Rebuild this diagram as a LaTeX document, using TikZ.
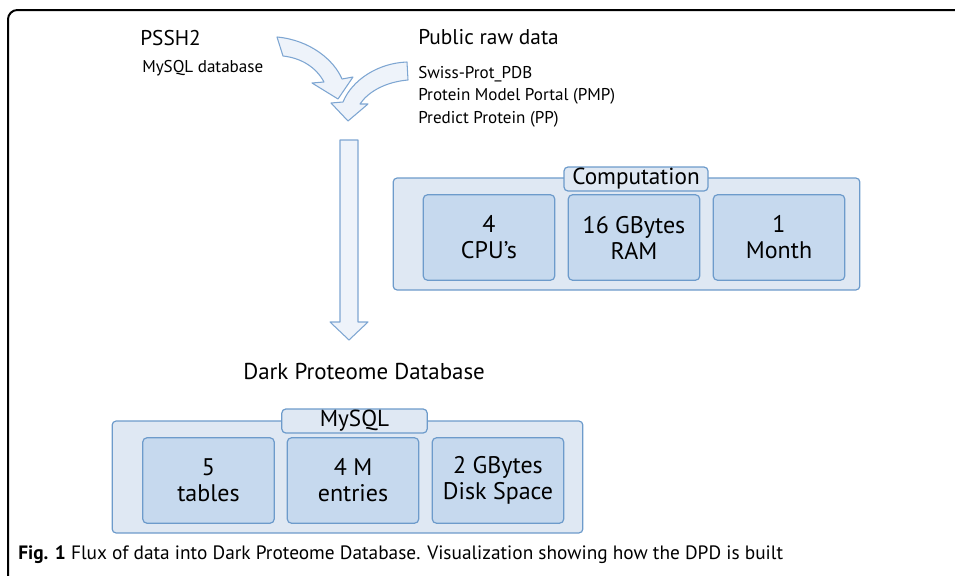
\documentclass[tikz,border=0pt]{standalone}
\usepackage{xcolor}
\usepackage{fontspec}
\setmainfont{PT Sans}
\usepackage{tikz}
\usetikzlibrary{arrows,positioning,shapes,calc}
\definecolor{outerfill}{HTML}{DFE8F3}
\definecolor{innerfill}{HTML}{C6D9EE}
\definecolor{boxline}{HTML}{6D9BCB}
\definecolor{arrowfill}{HTML}{EEF3FA}
\definecolor{arrowline}{HTML}{7EA6D2}

\begin{document}
\begin{tikzpicture}[x = .75pt, y = -.75pt,
  title/.style = {anchor = west, inner sep = 0pt, font = \fontsize{16}{19}\selectfont},
  small/.style = {anchor = west, inner sep = 0pt, font = \fontsize{12.8}{16.8}\selectfont, align = left},
  outerbox/.style = {draw = boxline, fill = outerfill, line width = .9pt, rounded corners = 3pt, minimum height = 84pt},
  innerbox/.style = {draw = boxline, fill = innerfill, line width = .9pt, rounded corners = 3pt, minimum width = 98.5pt, minimum height = 64pt, align = center, font = \fontsize{18}{19.5}\selectfont},
  tab/.style = {draw = boxline, fill = outerfill, line width = .9pt, rounded corners = 3pt, minimum height = 18pt, inner sep = 0pt, font = \fontsize{17.4}{18}\selectfont},
  blockarrow/.style = {draw = arrowline, fill = arrowfill, line width = .8pt, line join = round}]
\useasboundingbox (0,0) rectangle (955,575);
% frame
\draw[line width = 1.5pt, rounded corners = 7pt] (960,10) -- (8,10) -- (8,580);

% sources
\node[title] (pssh) at (140,38) {PSSH2};
\node[small] (mysqldb) at (142,68) {MySQL database};
\node[title] (public) at (418,37) {Public raw data};
\node[small, anchor = north west] (sources) at (418,66) {Swiss-Prot\_PDB\\Protein Model Portal (PMP)\\Predict Protein (PP)};

% curved arrows
\draw[blockarrow] (277,37) .. controls (310,40) and (334,60) .. (342,79) -- (353,77) -- (338,99)
  -- (312,83) -- (324,82) .. controls (316,67) and (301,58) .. (283,56) -- cycle;
\draw[blockarrow] (407,62) .. controls (378,63) and (352,80) .. (343,102) -- (331,103) -- (348,121)
  -- (368,104) -- (360,104) .. controls (368,92) and (385,82) .. (408,80) -- cycle;

% down arrow
\draw[blockarrow] (340,140) -- (358,140) -- (358,322) -- (368,322) -- (349,340) -- (330,322) -- (340,322) -- cycle;

% computation
\node[outerbox, minimum width = 350pt] (comp) at (626.5,234) {};
\node[innerbox] (cpu) at (489,237.5) {4\\CPU’s};
\node[innerbox] (ram) at (634,237.5) {16 GBytes\\RAM};
\node[innerbox] (month) at (779,237.5) {1\\Month};
\node[tab, minimum width = 108pt] (comptab) at (636,179) {Computation};

% database
\node[title, font = \fontsize{17.2}{19}\selectfont] (dpd) at (243,372) {Dark Proteome Database};
\node[outerbox, minimum width = 353pt] (db) at (347.5,477) {};
\node[innerbox] (tables) at (208.5,480.5) {5\\tables};
\node[innerbox] (entries) at (353,480.5) {4 M\\entries};
\node[innerbox] (disk) at (498,480.5) {2 GBytes\\Disk Space};
\node[tab, minimum width = 109pt] (dbtab) at (354.5,421) {MySQL};

% caption
\node[title, font = \fontsize{14.5}{16}\selectfont] (caption) at (18,555) {\textbf{Fig. 1} Flux of data into Dark Proteome Database. Visualization showing how the DPD is built};
\end{tikzpicture}
\end{document}
